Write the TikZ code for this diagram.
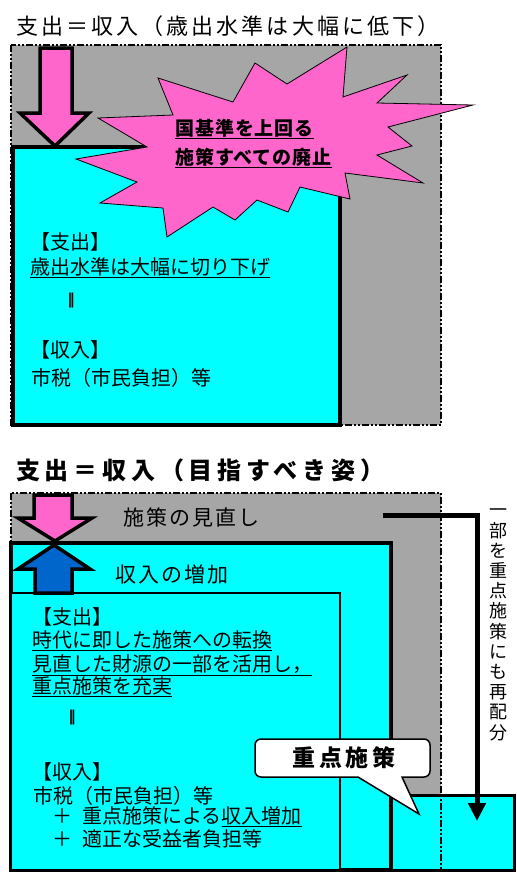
\documentclass[tikz,border=0pt]{standalone}
\usepackage{fontspec}
\setmainfont{Noto Sans CJK JP}
\newfontfamily\dvs{DejaVu Sans}
\usetikzlibrary{arrows.meta}
\definecolor{cy}{RGB}{0,255,255}
\definecolor{gr}{RGB}{166,166,166}
\definecolor{pk}{RGB}{255,102,204}
\definecolor{bl}{RGB}{0,102,204}
\newcommand{\fsz}[1]{\fontsize{#1}{#1}\selectfont}
\begin{document}
\begin{tikzpicture}[x=1pt,y=-1pt,
  dashdot/.style={line width=2pt, dash pattern=on 7pt off 2pt on 2pt off 2pt on 2pt off 2pt},
  cyanbox/.style={draw, fill=cy, rectangle, anchor=north west, inner sep=0pt, outer sep=0pt},
  grayarea/.style={fill=gr, rectangle, anchor=north west, inner sep=0pt, outer sep=0pt},
  bigarrow/.style={draw, line width=3.5pt, line join=miter},
  txt/.style={anchor=west, inner sep=0pt, font=\fsz{20}},
  bold/.style={anchor=west, inner sep=0pt, font=\fsz{19}\bfseries\addfontfeatures{LetterSpace=5}},
  dbar/.style={inner sep=0pt, font=\dvs\bfseries\fontsize{15}{15}\selectfont},
]
\useasboundingbox (0,0) rectangle (517,876);

% ---------- top section ----------
\node[anchor=west, inner sep=0pt, font=\fsz{22}\addfontfeatures{LetterSpace=14}] (t1) at (16,26) {支出＝収入（歳出水準は大幅に低下）};
\node[grayarea, minimum width=430pt, minimum height=380pt] (g1) at (11,45) {};
\node[cyanbox, line width=4pt, minimum width=327pt, minimum height=278pt] (c1) at (13,147) {};
\draw[dashdot] (g1.north west) rectangle (g1.south east);
\draw[bigarrow, fill=pk] (40,48) -- (72,48) -- (72,113) -- (89,113) -- (55,146) -- (20,113) -- (40,113) -- cycle;
\draw[fill=pk, line width=0.8pt, line join=miter]
  (347,47) -- (287,84) -- (255,63) -- (233,102) -- (158,78) -- (173,115) -- (98,118)
  -- (147,147) -- (76,159) -- (137,182) -- (100,203) -- (163,208) -- (167,237)
  -- (213,207) -- (235,220) -- (257,200) -- (288,212) -- (300,187) -- (350,199)
  -- (345,173) -- (423,183) -- (377,155) -- (412,146) -- (388,127) -- (473,105)
  -- (377,103) -- (407,75) -- (343,97) -- cycle;
\node[bold] (s1) at (175,129) {\underline{国基準を上回る}};
\node[bold] (s2) at (175,158) {\underline{施策すべての廃止}};
\node[txt] (a1) at (30,242) {【支出】};
\node[txt] (a2) at (30,268) {\underline{歳出水準は大幅に切り下げ}};
\node[dbar] (a3) at (71,301) {‖};
\node[txt] (a4) at (30,350) {【収入】};
\node[txt] (a5) at (31,378) {市税（市民負担）等};

% ---------- bottom section ----------
\node[anchor=west, inner sep=0pt, font=\fsz{24}\bfseries\addfontfeatures{LetterSpace=20}] (t2) at (16,470) {支出＝収入（目指すべき姿）};
\node[grayarea, minimum width=430pt, minimum height=377pt] (g2) at (11,493) {};
\node[cyanbox, line width=4pt, minimum width=380pt, minimum height=327pt] (c2) at (11,543) {};
\node[cyanbox, line width=1.5pt, minimum width=329pt, minimum height=277pt] (c3) at (11,593) {};
\node[cyanbox, line width=3pt, minimum width=123pt, minimum height=75pt] (c4) at (391,795) {};
\draw[dashdot] (g2.north west) rectangle (g2.south east);

\draw[bigarrow, fill=pk] (34,495) -- (72,495) -- (72,518) -- (92,518) -- (55,541) -- (18,518) -- (34,518) -- cycle;
\draw[bigarrow, fill=bl] (35,593) -- (72,593) -- (72,569) -- (90,569) -- (54,545) -- (18,569) -- (35,569) -- cycle;

\node[anchor=west, inner sep=0pt, font=\fsz{21}\addfontfeatures{LetterSpace=10}] (m1) at (123,517) {施策の見直し};
\node[anchor=west, inner sep=0pt, font=\fsz{21}\addfontfeatures{LetterSpace=10}] (m2) at (115,575) {収入の増加};

\node[txt] (b1) at (32,617) {【支出】};
\node[txt] (b2) at (32,641) {\underline{時代に即した施策への転換}};
\node[txt] (b3) at (32,665) {\underline{見直した財源の一部を活用し，}};
\node[txt] (b4) at (32,687) {\underline{重点施策を充実}};
\node[dbar] (b5) at (72,718) {‖};
\node[txt] (b6) at (32,772) {【収入】};
\node[txt] (b7) at (33,796) {市税（市民負担）等};
\node[txt] (b8) at (52,817) {＋\hspace{10pt}重点施策による\underline{収入増加}};
\node[txt] (b9) at (52,839) {＋\hspace{10pt}適正な受益者負担等};

% callout
\draw[fill=white, line width=1.5pt] (255,758) [rounded corners=6pt] -- (255,739) -- (430,739) -- (430,777) [sharp corners] -- (402,777) -- (419,814) -- (358,777) [rounded corners=6pt] -- (255,777) -- cycle;
\node[inner sep=0pt, font=\fsz{23}\bfseries\addfontfeatures{LetterSpace=15}] (cl) at (344,758) {重点施策};

% connector
\coordinate (k1) at (383,515);
\coordinate (k2) at (477,821);
\draw[line width=5pt, line join=miter, -{Triangle[length=18pt,width=17pt]}] (k1) -| (k2);
\node[anchor=north, inner sep=0pt, align=center, font=\fontsize{18}{20.2}\selectfont] (v1) at (498,509) {一\\部\\を\\重\\点\\施\\策\\に\\も\\再\\配\\分};
\end{tikzpicture}
\end{document}
